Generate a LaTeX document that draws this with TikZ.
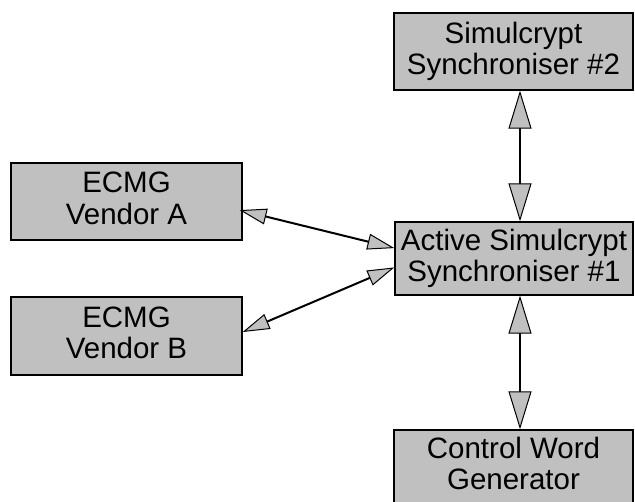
\documentclass[tikz,border=0pt]{standalone}
\usepackage{fontspec}
\setmainfont{Liberation Sans}
\usetikzlibrary{arrows.meta,calc}
\definecolor{boxgray}{RGB}{192,192,192}
\begin{document}
\begin{tikzpicture}[x=1pt,y=-1pt,
  box/.style={draw=black,fill=boxgray,line width=1.3pt,inner sep=0pt,align=center,
    font=\fontsize{29.5}{31.5}\selectfont,execute at end node={\vphantom{y}}},
  bigarrow/.style={line width=2pt,
    {Triangle[length=38pt,width=23pt,fill=boxgray,line width=1pt]}-{Triangle[length=38pt,width=23pt,fill=boxgray,line width=1pt]}},
  smallarrow/.style={line width=2pt,
    {Triangle[length=27pt,width=16pt,fill=boxgray,line width=1pt]}-{Triangle[length=27pt,width=16pt,fill=boxgray,line width=1pt]}}
]
\useasboundingbox (0,0) rectangle (635,502);
\begin{scope}
\clip (0,0) rectangle (635,502);
\node[box,minimum width=239pt,minimum height=77pt] (S2) at (513.5,51.5) {Simulcrypt\\Synchroniser \#2};
\node[box,minimum width=238pt,minimum height=73pt] (Act) at (514,258.5) {Active Simulcrypt\\Synchroniser \#1};
\node[box,minimum width=239pt,minimum height=73pt] (CW) at (513.5,466.5) {Control Word\\Generator};
\node[box,minimum width=231pt,minimum height=77pt] (A) at (126.5,201.5) {ECMG\\Vendor A};
\node[box,minimum width=231pt,minimum height=78pt] (B) at (126.5,336) {ECMG\\Vendor B};

\coordinate (s2b) at ($(S2.south)+(6.5,0)$);
\coordinate (actt) at ($(Act.north)+(6,0)$);
\coordinate (actb) at ($(Act.south)+(6,0)$);
\coordinate (cwt) at ($(CW.north)+(6.5,0)$);
\coordinate (actA) at ($(Act.north west)!0.36!(Act.south west)$);
\coordinate (actB) at ($(Act.north west)!0.62!(Act.south west)$);
\coordinate (aE) at ($(A.north east)!0.61!(A.south east)+(-3,0)$);
\coordinate (bE) at ($(B.north east)!0.45!(B.south east)$);

\draw[bigarrow] (s2b) -- (actt);
\draw[bigarrow] (actb) -- (cwt);
\draw[smallarrow] (aE) -- (actA);
\draw[smallarrow] (bE) -- (actB);
\end{scope}
\end{tikzpicture}
\end{document}
